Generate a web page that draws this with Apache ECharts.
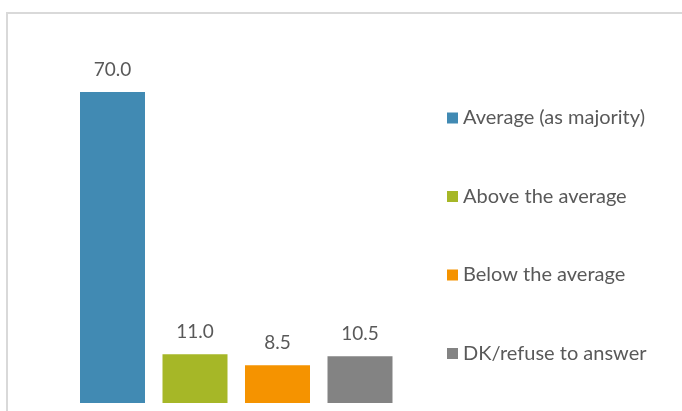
<!DOCTYPE html>
<html>
<head>
<meta charset="utf-8">
<script src="https://cdn.jsdelivr.net/npm/echarts@6/dist/echarts.min.js"></script>
<style>
  html, body { margin: 0; padding: 0; background: #fff; }
  #chart { width: 682px; height: 411px; }
</style>
</head>
<body>
<div id="chart"></div>
<script>
// Survey answers, share of respondents (%)
const categories = ['Average (as majority)', 'Above the average', 'Below the average', 'DK/refuse to answer'];
const values = [70.0, 11.0, 8.5, 10.5];
const colors = ['#418AB3', '#A6B727', '#F59300', '#838383'];

const FONT = 'Lato, "Open Sans", sans-serif';

// One series per answer so each gets its own legend entry; stacking keeps
// every bar centred in its own category slot.
const series = categories.map((name, i) => ({
  name: name,
  type: 'bar',
  stack: 'answers',
  barWidth: 65,
  itemStyle: { color: colors[i] },
  label: {
    show: true,
    position: 'top',
    distance: 13,
    formatter: p => Number(p.value).toFixed(1),
    color: '#595959',
    fontFamily: FONT,
    fontSize: 19
  },
  data: values.map((v, j) => (j === i ? v : '-'))
}));

const chart = echarts.init(document.getElementById('chart'), null, { renderer: 'canvas' });
chart.setOption({
  animation: false,
  backgroundColor: '#fff',
  grid: { left: 71.25, width: 330, top: 47.6, bottom: 8, containLabel: false },
  xAxis: {
    type: 'category',
    data: categories,
    axisLine: { show: false },
    axisTick: { show: false },
    axisLabel: { show: false }
  },
  yAxis: {
    type: 'value',
    min: 0,
    max: 80,
    show: false
  },
  legend: {
    orient: 'vertical',
    left: 447,
    top: 107,
    padding: 0,
    itemWidth: 11,
    itemHeight: 11,
    itemGap: 56.5,
    icon: 'rect',
    data: categories,
    textStyle: {
      color: '#595959',
      fontFamily: FONT,
      fontSize: 20,
      lineHeight: 22
    }
  },
  graphic: [
    {
      type: 'line',
      shape: { x1: 6, y1: 13, x2: 682, y2: 13 },
      style: { stroke: '#d9d9d9', lineWidth: 2 },
      silent: true
    },
    {
      type: 'line',
      shape: { x1: 7, y1: 13, x2: 7, y2: 411 },
      style: { stroke: '#d9d9d9', lineWidth: 2 },
      silent: true
    }
  ],
  series: series
});
</script>
</body>
</html>
